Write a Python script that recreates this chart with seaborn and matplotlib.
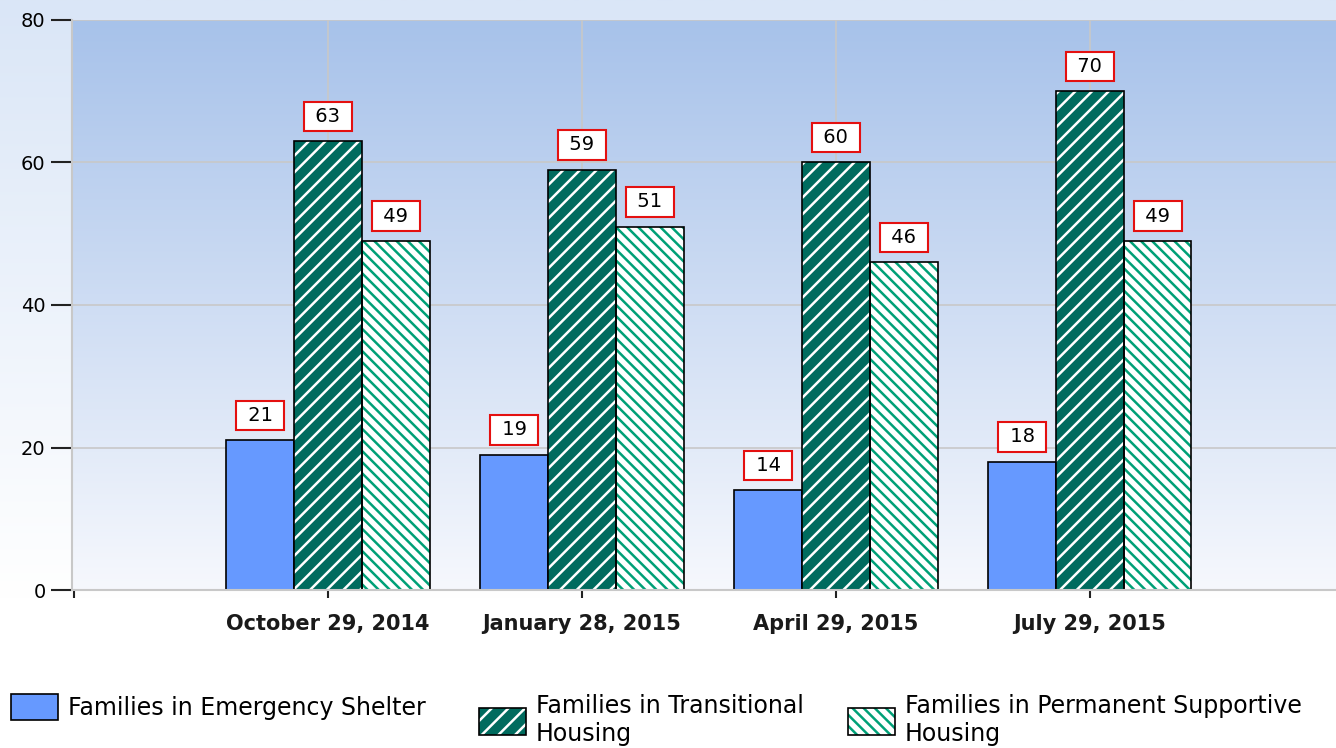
import numpy as np
import pandas as pd
import matplotlib
matplotlib.use("Agg")
import matplotlib.pyplot as plt
import seaborn as sns
from matplotlib.patches import Rectangle, Patch
from matplotlib.colors import LinearSegmentedColormap

# data
DATES = ["October 29, 2014", "January 28, 2015", "April 29, 2015", "July 29, 2015"]
SERIES = ["Families in Emergency Shelter",
          "Families in Transitional\nHousing",
          "Families in Permanent Supportive\nHousing"]
EMERGENCY = [21, 19, 14, 18]
TRANSITIONAL = [63, 59, 60, 70]
PERMANENT = [49, 51, 46, 49]
Y_TICKS = [0, 20, 40, 60, 80]

FACE_COLORS = ["#6699ff", "#006b5e", "#ffffff"]
HATCHES = [None, "//", "\\\\\\"]
HATCH_COLORS = [None, "#ffffff", "#00a077"]

plt.rcParams["hatch.linewidth"] = 1.8
plt.rcParams["font.family"] = ["DejaVu Sans"]

df = pd.DataFrame({
    "date": DATES * 3,
    "series": np.repeat(SERIES, len(DATES)),
    "families": EMERGENCY + TRANSITIONAL + PERMANENT,
})

W, H = 1336, 748
fig = plt.figure(figsize=(W / 100, H / 100), dpi=100)
fig.patch.set_facecolor("white")

# figure background gradient (light blue on top -> white)
bg_ax = fig.add_axes([0, 0, 1, 1], zorder=-10)
bg_cmap = LinearSegmentedColormap.from_list("bg", [(0, "#ffffff"), (0.2, "#ffffff"), (1, "#dae6f7")])
bg_ax.imshow(np.linspace(0, 1, 256).reshape(-1, 1), cmap=bg_cmap, origin="lower",
             aspect="auto", extent=(0, 1, 0, 1))
bg_ax.axis("off")

ax = fig.add_axes([72 / W, 158 / H, 1 - 72 / W, 570 / H])
ax.patch.set_alpha(0)
plot_cmap = LinearSegmentedColormap.from_list("plot", ["#f6f8fd", "#a7c2ea"])
ax.imshow(np.linspace(0, 1, 256).reshape(-1, 1), cmap=plot_cmap, origin="lower",
          aspect="auto", extent=(0, 1, 0, 1), transform=ax.transAxes, zorder=-5)

sns.barplot(data=df, x="date", y="families", hue="series", order=DATES, hue_order=SERIES,
            palette=FACE_COLORS, saturation=1, width=0.8, gap=0, errorbar=None,
            edgecolor="black", linewidth=1.2, legend=False, ax=ax, zorder=2)

# hatch fills with a separate black outline
for cont, h, hc in zip(ax.containers, HATCHES, HATCH_COLORS):
    if h is None:
        continue
    for bar in cont:
        bar.set_hatch(h)
        bar.set_edgecolor(hc)
        bar.set_linewidth(0)
        ax.add_patch(Rectangle(bar.get_xy(), bar.get_width(), bar.get_height(),
                               fill=False, ec="black", lw=1.2, zorder=2.5))

for cont in ax.containers:
    ax.bar_label(cont, fmt=" {:.0f} ", padding=11, fontsize=14, color="black", zorder=4,
                 bbox=dict(boxstyle="square,pad=0.27", fc="white", ec="#e41010", lw=1.5))

ax.set_xlim(-1.008, 3.969)
ax.set_ylim(0, 80)
ax.set_yticks(Y_TICKS)
ax.set_xticks(range(len(DATES)))
ax.set_xticklabels(DATES, fontsize=15, fontweight="bold", color="#1a1a1a")
ax.set_xticks([-1.0], minor=True)
ax.set_xlabel("")
ax.set_ylabel("")
ax.tick_params(axis="y", length=15, width=1.5, color="#222222", labelsize=14, pad=4)
ax.tick_params(axis="x", which="both", length=6, width=1.5, color="#222222", pad=11)
ax.grid(True, color="#c8c8c8", lw=1.2)
ax.set_axisbelow(True)
for side in ["top", "right"]:
    ax.spines[side].set_visible(False)
for side in ["left", "bottom"]:
    ax.spines[side].set_color("#c8c8c8")
    ax.spines[side].set_linewidth(1.5)

# legend, one box per entry so the columns sit where the reference has them
legend_x = [-6, 462, 831]
for i, lab in enumerate(SERIES):
    if HATCHES[i] is None:
        handle = Patch(fc=FACE_COLORS[i], ec="black", lw=1.2)
    else:
        handle = (Patch(fc=FACE_COLORS[i], hatch=HATCHES[i], ec=HATCH_COLORS[i], lw=0),
                  Patch(fill=False, ec="black", lw=1.2))
    leg = fig.legend([handle], [lab], loc="upper left", bbox_to_anchor=(legend_x[i] / W, 71 / H),
                     frameon=False, fontsize=17, handlelength=2.0, handleheight=1.35,
                     handletextpad=0.42, borderpad=0.2, labelspacing=0.1)
    for t in leg.get_texts():
        t.set_linespacing(1.25)

fig.savefig("out.png", dpi=100)
